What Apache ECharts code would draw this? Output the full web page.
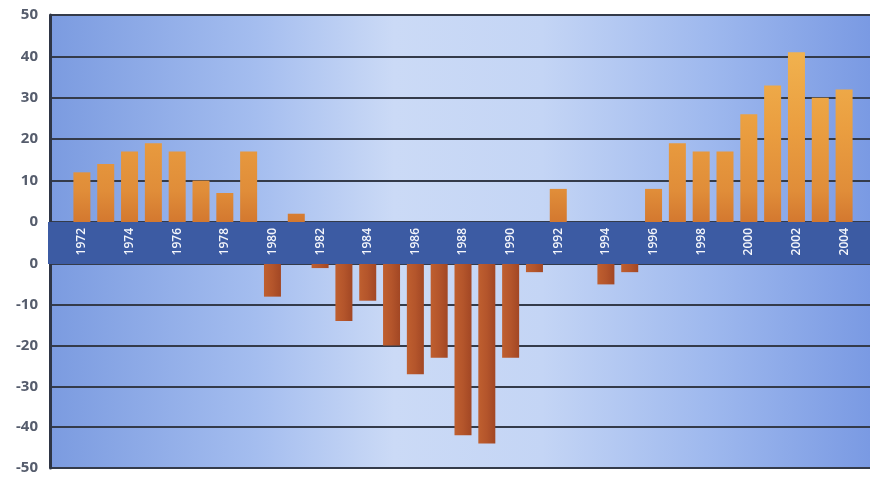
<!DOCTYPE html>
<html>
<head>
<meta charset="utf-8">
<script src="https://cdn.jsdelivr.net/npm/echarts@6/dist/echarts.min.js"></script>
<style>
html,body{margin:0;padding:0;background:#ffffff;}
#chart{width:870px;height:479px;}
</style>
</head>
<body>
<div id="chart"></div>
<script>
// ---- data ----
const years = ['1972','1973','1974','1975','1976','1977','1978','1979','1980','1981',
  '1982','1983','1984','1985','1986','1987','1988','1989','1990','1991',
  '1992','1993','1994','1995','1996','1997','1998','1999','2000','2001',
  '2002','2003','2004'];
const values = [12,14,17,19,17,10,7,17,-8,2,
  -1,-14,-9,-20,-27,-23,-42,-44,-23,-2,
  8,0,-5,-2,8,19,17,17,26,33,
  41,30,32];
const upperTicks = [0,10,20,30,40,50];
const lowerTicks = [-50,-40,-30,-20,-10,0];

// ---- layout ----
const W = 870;
const frameLeft = 50, frameRight = 0;
const barLeft = 70, barRight = 14;
const topY = 15, zeroTop = 222, zeroBottom = 264, bottomY = 468;

const posData = values.map(v => v > 0 ? v : '-');
const negData = values.map(v => v < 0 ? v : '-');

const bgGradient = {
  type: 'linear', x: 0, y: 0, x2: 1, y2: 0,
  colorStops: [
    {offset: 0, color: '#7b9be0'},
    {offset: 0.25, color: '#a4bdef'},
    {offset: 0.42, color: '#cbdaf6'},
    {offset: 0.6, color: '#c4d5f5'},
    {offset: 0.8, color: '#9fb9ee'},
    {offset: 1, color: '#7a9ae3'}
  ]
};

const posColor = {
  type: 'linear', x: 0, y: topY, x2: 0, y2: zeroTop, global: true,
  colorStops: [
    {offset: 0, color: '#f4bb55'},
    {offset: 0.55, color: '#ea9e40'},
    {offset: 0.85, color: '#e08d39'},
    {offset: 1, color: '#d3782f'}
  ]
};
const negColor = {
  type: 'linear', x: 0, y: 0, x2: 1, y2: 0,
  colorStops: [
    {offset: 0, color: '#bf5f2f'},
    {offset: 0.5, color: '#b4552b'},
    {offset: 1, color: '#a24724'}
  ]
};

const yLabel = {
  color: '#555c6c', fontSize: 15, fontWeight: 'bold',
  fontFamily: 'Open Sans', margin: 12
};
const gridLine = {show: true, lineStyle: {color: '#343b4a', width: 2}};

const chart = echarts.init(document.getElementById('chart'), null, {renderer: 'canvas'});
chart.setOption({
  animation: false,
  backgroundColor: '#ffffff',
  grid: [
    {left: frameLeft, right: frameRight, top: topY, height: zeroTop - topY,
     show: true, backgroundColor: bgGradient, borderWidth: 0},
    {left: frameLeft, right: frameRight, top: zeroBottom, height: bottomY - zeroBottom,
     show: true, backgroundColor: bgGradient, borderWidth: 0},
    {left: barLeft, right: barRight, top: topY, height: zeroTop - topY},
    {left: barLeft, right: barRight, top: zeroBottom, height: bottomY - zeroBottom}
  ],
  graphic: [{
    type: 'rect', z: 1,
    shape: {x: frameLeft - 2, y: zeroTop, width: W - frameLeft + 2, height: zeroBottom - zeroTop},
    style: {fill: '#3c5ba3'}
  }],
  xAxis: [
    {gridIndex: 0, type: 'category', data: years, show: false},
    {gridIndex: 1, type: 'category', data: years, show: false},
    {gridIndex: 2, type: 'category', data: years, z: 5,
     axisLine: {show: false}, axisTick: {show: false},
     axisLabel: {interval: 1, rotate: 90, color: '#f4f6fb', fontSize: 12,
                 fontWeight: 600, fontFamily: 'Open Sans', margin: 6}},
    {gridIndex: 3, type: 'category', data: years, show: false}
  ],
  yAxis: [
    {gridIndex: 0, type: 'value', min: upperTicks[0], max: upperTicks[upperTicks.length - 1],
     interval: 10, axisLine: {show: true, lineStyle: {color: '#2e3545', width: 3}},
     axisTick: {show: false}, axisLabel: yLabel, splitLine: gridLine},
    {gridIndex: 1, type: 'value', min: lowerTicks[0], max: lowerTicks[lowerTicks.length - 1],
     interval: 10, axisLine: {show: true, lineStyle: {color: '#2e3545', width: 3}},
     axisTick: {show: false}, axisLabel: yLabel, splitLine: gridLine},
    {gridIndex: 2, type: 'value', min: 0, max: 50, show: false, splitLine: {show: false}},
    {gridIndex: 3, type: 'value', min: -50, max: 0, show: false, splitLine: {show: false}}
  ],
  series: [
    {type: 'bar', xAxisIndex: 2, yAxisIndex: 2, data: posData, barWidth: 17,
     itemStyle: {color: posColor}},
    {type: 'bar', xAxisIndex: 3, yAxisIndex: 3, data: negData, barWidth: 17,
     itemStyle: {color: negColor}}
  ]
});
</script>
</body>
</html>
